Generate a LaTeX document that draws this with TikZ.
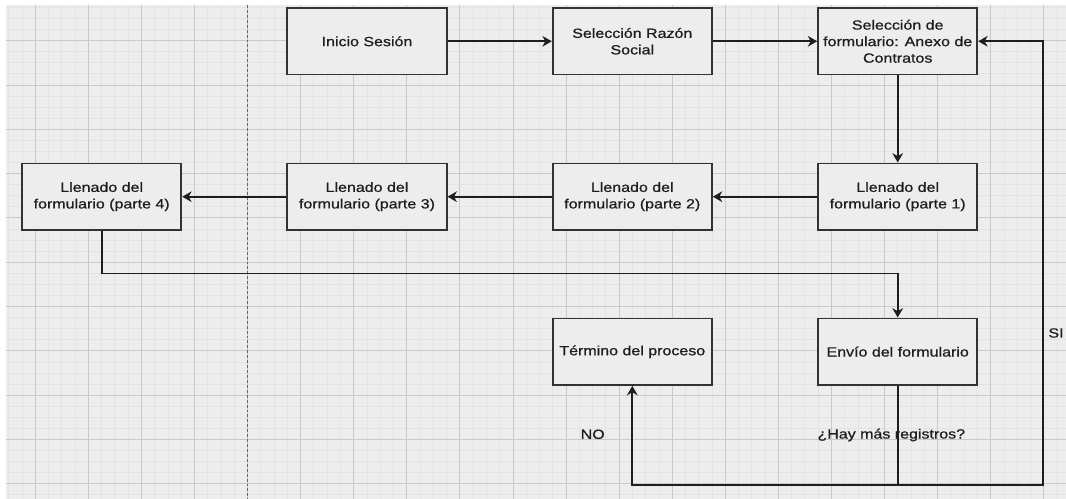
\documentclass[tikz,border=0pt]{standalone}
\usepackage{fontspec}
\setmainfont{Liberation Sans}[FakeStretch=1.2,FakeBold=0.8]
\usetikzlibrary{arrows.meta}
\definecolor{bg}{HTML}{EDEDED}
\definecolor{gminor}{HTML}{E3E3E3}
\definecolor{gmajor}{HTML}{C9C9C9}
\definecolor{ink}{HTML}{1E1E1E}
\definecolor{edgecol}{HTML}{333333}
\definecolor{dashcol}{HTML}{666666}
\begin{document}
\begin{tikzpicture}[x=0.75pt,y=-0.75pt,
  box/.style={draw=edgecol, line width=1.35pt, fill=bg, minimum width=119.5pt, minimum height=49.9pt,
    inner sep=2pt, align=center, text=ink, font=\fontsize{10pt}{12.4pt}\selectfont},
  lbl/.style={inner sep=0pt, text=ink, font=\fontsize{10pt}{12.4pt}\selectfont},
  conn/.style={draw=ink, line width=1.3pt, -{Stealth[length=7pt,width=8pt,inset=2.2pt]}},
  gridminor/.style={draw=gminor, line width=0.75pt},
  gridmajor/.style={draw=gmajor, line width=0.75pt}]
\useasboundingbox (0,0) rectangle (1066,499);
\fill[white] (0,0) rectangle (1066,499);
\fill[bg] (6,5) rectangle (1066,498.5);
% grid
\begin{scope}
\clip (6,5) rectangle (1066,498.5);
\foreach \k in {-2,...,78} {\draw[gridminor] ({35.3+13.27*\k},5) -- ({35.3+13.27*\k},498.5);}
\foreach \k in {-3,...,41} {\draw[gridminor] (6,{40.7+11.08*\k}) -- (1066,{40.7+11.08*\k});}
\foreach \k in {0,...,19} {\draw[gridmajor] ({35.3+53.08*\k},5) -- ({35.3+53.08*\k},498.5);}
\foreach \k in {0,...,10} {\draw[gridmajor] (6,{40.7+44.32*\k}) -- (1066,{40.7+44.32*\k});}
\end{scope}
% dashed separator
\coordinate (dtop) at (247.6,5);
\coordinate (dbot) at (247.6,498.5);
\draw[dashcol, line width=0.8pt, dash pattern=on 2.2pt off 1.5pt] (dtop) -- (dbot);
% boxes
\node[box] (ini) at (367,41.3) {Inicio Sesión};
\node[box] (raz) at (632.3,41.3) {Selección Razón\\Social};
\node[box] (sel) at (897.7,41.3) {Selección de\\formulario: Anexo de\\Contratos};
\node[box] (p1) at (897.7,196.7) {Llenado del\\formulario (parte 1)};
\node[box] (p2) at (632.3,196.7) {Llenado del\\formulario (parte 2)};
\node[box] (p3) at (367,196.7) {Llenado del\\formulario (parte 3)};
\node[box] (p4) at (101.7,196.7) {Llenado del\\formulario (parte 4)};
\node[box] (ter) at (632.3,351.7) {Término del proceso};
\node[box] (env) at (897.7,351.7) {Envío del formulario};
% connectors
\draw[conn] (ini) -- (raz);
\draw[conn] (raz) -- (sel);
\draw[conn] (sel) -- (p1);
\draw[conn] (p1) -- (p2);
\draw[conn] (p2) -- (p3);
\draw[conn] (p3) -- (p4);
\coordinate (c1) at (101.7,273.5);
\draw[conn] (p4.south) -- (c1) -| (env.north);
\coordinate (c2) at (897.7,485);
\draw[conn] (env.south) -- (c2) -| (ter.south);
\coordinate (c3) at (1043.3,485);
\coordinate (c4) at (1043.3,41.3);
\draw[conn] (c2) -- (c3) -- (c4) -- (sel.east);
% labels
\node[lbl] (si) at (1056,333) {SI};
\node[lbl] (no) at (592.7,434.3) {NO};
\node[lbl] (hay) at (891.3,435) {¿Hay más registros?};
\end{tikzpicture}
\end{document}
